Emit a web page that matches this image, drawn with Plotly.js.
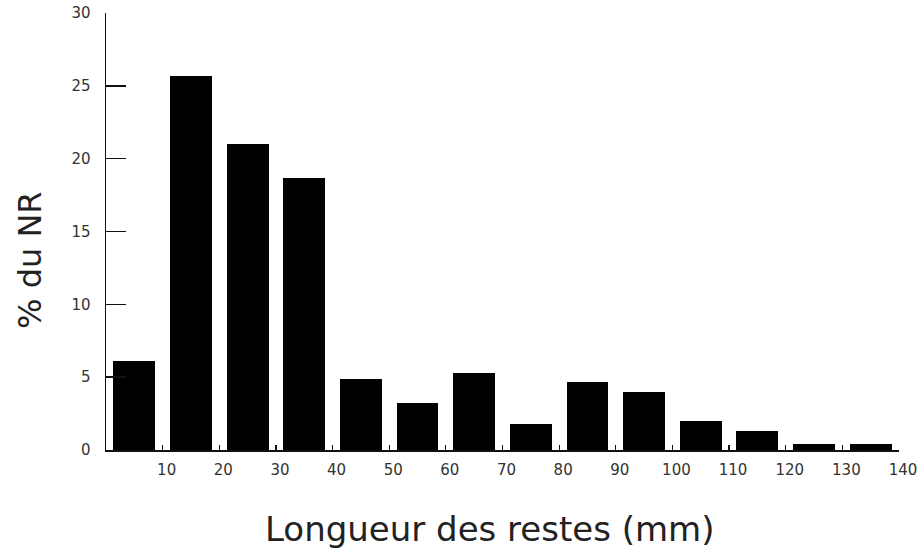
<!DOCTYPE html>
<html>
<head>
<meta charset="utf-8">
<script src="https://cdn.plot.ly/plotly-3.0.1.min.js"></script>
<style>html,body{margin:0;padding:0;background:#fff;}#chart{width:920px;height:551px;}</style>
</head>
<body>
<div id="chart"></div>
<script>
// Length classes (lower bound of each 10 mm class)
var classStarts = [0, 10, 20, 30, 40, 50, 60, 70, 80, 90, 100, 110, 120, 130];
// % of NR per class
var pctNR = [6.1, 25.7, 21.0, 18.7, 4.9, 3.2, 5.3, 1.8, 4.7, 4.0, 2.0, 1.3, 0.4, 0.4];
var xTickVals = [10, 20, 30, 40, 50, 60, 70, 80, 90, 100, 110, 120, 130, 140];
var yTickVals = [0, 5, 10, 15, 20, 25, 30];
var xTitle = "Longueur des restes (mm)";
var yTitle = "% du NR";

var centers = classStarts.map(function (s) { return s + 5; });
var font = "'DejaVu Sans', sans-serif";

var trace = {
  type: "bar",
  x: centers,
  y: pctNR,
  width: 7.4,
  marker: { color: "#000000", line: { width: 0 } },
  hoverinfo: "x+y"
};

var layout = {
  width: 920, height: 551,
  margin: { l: 106, r: 21, t: 13, b: 101 },
  paper_bgcolor: "#ffffff",
  plot_bgcolor: "#ffffff",
  showlegend: false,
  font: { family: font, color: "#222", size: 15 },
  xaxis: {
    range: [0, 140],
    tickvals: xTickVals,
    ticktext: xTickVals.map(String),
    ticks: "inside", ticklen: 5, tickwidth: 1.2, tickcolor: "#111",
    showline: true, linecolor: "#111", linewidth: 1.5,
    showgrid: false, zeroline: false,
    ticklabelshift: 4,
    ticklabelstandoff: 5,
    tickfont: { family: font, size: 15, color: "#333" },
    fixedrange: true
  },
  yaxis: {
    range: [0, 30],
    tickvals: yTickVals,
    ticks: "inside", ticklen: 20, tickwidth: 1.5, tickcolor: "#111",
    showline: true, linecolor: "#111", linewidth: 1.5,
    showgrid: false, zeroline: false,
    ticklabelstandoff: 11,
    tickfont: { family: font, size: 15, color: "#333" },
    fixedrange: true
  },
  annotations: [
    {
      text: xTitle, xref: "paper", yref: "paper",
      x: 0.484, y: -0.18, xanchor: "center", yanchor: "middle",
      showarrow: false,
      font: { family: font, size: 34, color: "#222" }
    },
    {
      text: yTitle, xref: "paper", yref: "paper",
      x: -0.0958, y: 0.435, xanchor: "center", yanchor: "middle",
      textangle: -90, showarrow: false,
      font: { family: font, size: 32, color: "#222" }
    }
  ],
  bargap: 0
};

Plotly.newPlot("chart", [trace], layout, { displayModeBar: false, staticPlot: true });
</script>
</body>
</html>
